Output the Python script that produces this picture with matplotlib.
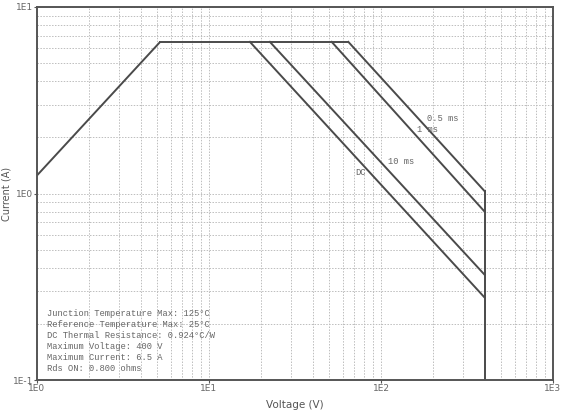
import matplotlib
matplotlib.use("Agg")
import matplotlib.pyplot as plt
from matplotlib.ticker import LogLocator, FixedLocator, NullFormatter

# Rds(on)-limited segment (V, A)
rds_v = [1.0, 5.2]
rds_i = [1.25, 6.5]

# Current plateau and pulse-width power-limit segments
max_current = 6.5
max_voltage = 400.0
curve_names = ["DC", "10 ms", "1 ms", "0.5 ms"]
knee_v = [17.3, 22.6, 51.7, 64.6]        # voltage where power limit leaves the plateau
end_i = [0.277, 0.367, 0.80, 1.03]       # current at maximum voltage

# Label anchor points (V, A)
label_v = [70.6, 110.0, 162.0, 185.0]
label_i = [1.30, 1.49, 2.21, 2.53]

info_lines = [
    "Junction Temperature Max: 125°C",
    "Reference Temperature Max: 25°C",
    "DC Thermal Resistance: 0.924°C/W",
    "Maximum Voltage: 400 V",
    "Maximum Current: 6.5 A",
    "Rds ON: 0.800 ohms",
]

x_ticks = [1, 10, 100, 1000]
x_ticklabels = ["1E0", "1E1", "1E2", "1E3"]
y_ticks = [0.1, 1, 10]
y_ticklabels = ["1E-1", "1E0", "1E1"]

line_col = "#4a4a4a"
text_col = "#666666"
mono = "Liberation Mono"

fig = plt.figure(figsize=(5.64, 4.12), dpi=100)
ax = fig.add_axes([37 / 564, 1 - 380 / 412, (553 - 37) / 564, (380 - 7) / 412])
ax.set_xscale("log")
ax.set_yscale("log")
ax.set_xlim(1, 1000)
ax.set_ylim(0.1, 10)

# Rds line and plateau shared by all curves
ax.plot(rds_v, rds_i, color=line_col, lw=1.4, solid_capstyle="butt")
ax.plot([rds_v[-1], max(knee_v)], [max_current, max_current], color=line_col, lw=1.4)

for kv, ei in zip(knee_v, end_i):
    ax.plot([kv, max_voltage], [max_current, ei], color=line_col, lw=1.4)

# Voltage limit
ax.plot([max_voltage, max_voltage], [max(end_i), 0.1], color=line_col, lw=1.4)

for name, lv, li in zip(curve_names, label_v, label_i):
    ax.text(lv, li, name, fontsize=6.3, family=mono, color=text_col,
            ha="left", va="center")

for k, line in enumerate(info_lines):
    ax.text(47 / 564, 1 - 313 / 412 - k * 11.1 / 412, line,
            transform=fig.transFigure, fontsize=6.3, family=mono,
            color=text_col, ha="left", va="center")

ax.xaxis.set_major_locator(FixedLocator(x_ticks))
ax.yaxis.set_major_locator(FixedLocator(y_ticks))
ax.set_xticklabels(x_ticklabels)
ax.set_yticklabels(y_ticklabels)
ax.xaxis.set_minor_locator(LogLocator(base=10, subs=range(2, 10)))
ax.yaxis.set_minor_locator(LogLocator(base=10, subs=range(2, 10)))
ax.xaxis.set_minor_formatter(NullFormatter())
ax.yaxis.set_minor_formatter(NullFormatter())

ax.grid(True, which="both", color="#bdbdbd", linestyle=(0, (1.5, 1.5)), lw=0.7)
ax.tick_params(which="major", length=2, width=0.8, color="#555555",
               labelsize=6.5, labelcolor="#666666", pad=1)
ax.tick_params(which="minor", length=0)

for sp in ax.spines.values():
    sp.set_color("#555555")
    sp.set_linewidth(1.4)

ax.set_xlabel("Voltage (V)", fontsize=7.5, color="#555555", labelpad=5)
ax.set_ylabel("Current (A)", fontsize=7, color="#555555", labelpad=1)

fig.savefig("out.png", dpi=100)
